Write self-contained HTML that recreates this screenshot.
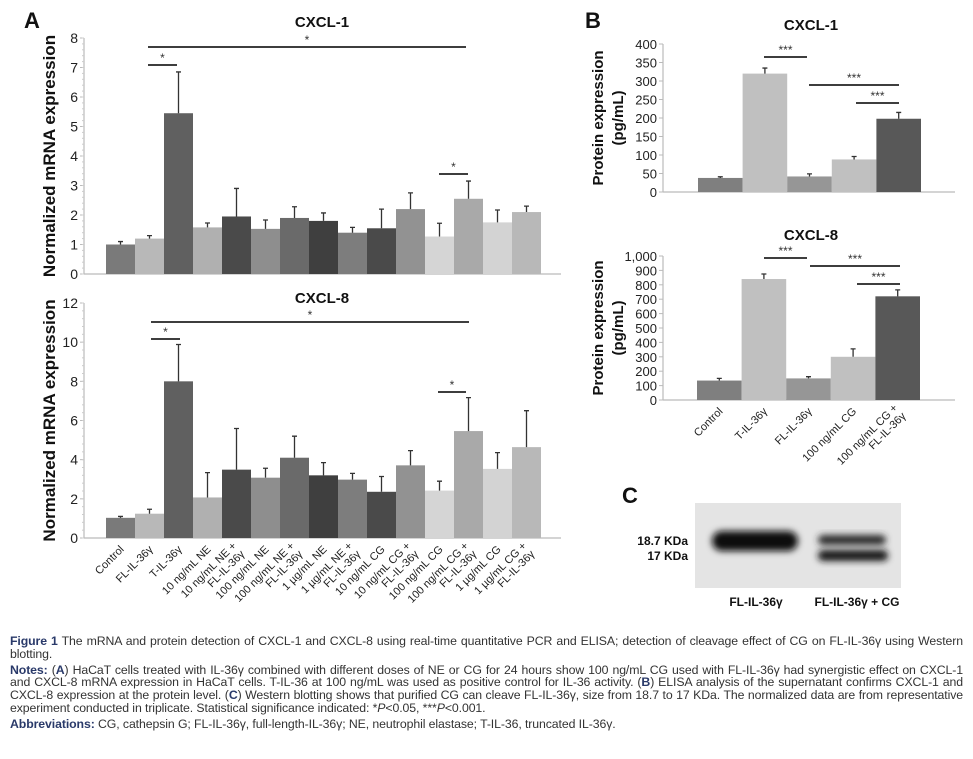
<!DOCTYPE html>
<html><head><meta charset="utf-8"><style>
body{margin:0;background:#fff;width:973px;height:759px;overflow:hidden;position:relative;font-family:"Liberation Sans",sans-serif}
svg{position:absolute;left:0;top:0}
#cap{position:absolute;left:10px;top:635px;width:953px;font-size:12.3px;line-height:12.8px;color:#333;text-align:justify;letter-spacing:-0.1px}
#cap p{margin:0 0 3px 0}
#cap b{color:#2a3a6a;font-weight:bold}
</style></head><body>
<svg id="fig" width="973" height="630" xmlns="http://www.w3.org/2000/svg" font-family="Liberation Sans, sans-serif"></svg>
<div id="cap"><p><b>Figure 1</b> The mRNA and protein detection of CXCL-1 and CXCL-8 using real-time quantitative PCR and ELISA; detection of cleavage effect of CG on FL-IL-36γ using Western blotting.</p><p><b>Notes:</b> (<b>A</b>) HaCaT cells treated with IL-36γ combined with different doses of NE or CG for 24 hours show 100 ng/mL CG used with FL-IL-36γ had synergistic effect on CXCL-1 and CXCL-8 mRNA expression in HaCaT cells. T-IL-36 at 100 ng/mL was used as positive control for IL-36 activity. (<b>B</b>) ELISA analysis of the supernatant confirms CXCL-1 and CXCL-8 expression at the protein level. (<b>C</b>) Western blotting shows that purified CG can cleave FL-IL-36γ, size from 18.7 to 17 KDa. The normalized data are from representative experiment conducted in triplicate. Statistical significance indicated: *<i>P</i>&lt;0.05, ***<i>P</i>&lt;0.001.</p><p><b>Abbreviations:</b> CG, cathepsin G; FL-IL-36γ, full-length-IL-36γ; NE, neutrophil elastase; T-IL-36, truncated IL-36γ.</p></div>
<script>
const catsA=["Control","FL-IL-36γ","T-IL-36γ","10 ng/mL NE","10 ng/mL NE +|FL-IL-36γ","100 ng/mL NE","100 ng/mL NE +|FL-IL-36γ","1 µg/mL NE","1 µg/mL NE +|FL-IL-36γ","10 ng/mL CG","10 ng/mL CG +|FL-IL-36γ","100 ng/mL CG","100 ng/mL CG +|FL-IL-36γ","1 µg/mL CG","1 µg/mL CG +|FL-IL-36γ"];
const a1Vals=[1.0,1.2,5.45,1.58,1.95,1.53,1.9,1.8,1.4,1.55,2.2,1.27,2.55,1.75,2.1];
const a1Err=[0.1,0.1,1.4,0.15,0.95,0.3,0.38,0.27,0.18,0.65,0.55,0.45,0.6,0.42,0.2];
const a8Vals=[1.03,1.24,8.0,2.07,3.49,3.08,4.1,3.2,2.98,2.36,3.71,2.42,5.46,3.53,4.64];
const a8Err=[0.07,0.23,1.88,1.27,2.1,0.48,1.1,0.65,0.32,0.78,0.75,0.48,1.71,0.83,1.86];
const a1Ticks=[0,1,2,3,4,5,6,7,8];
const a8Ticks=[0,2,4,6,8,10,12];
const catsB=["Control","T-IL-36γ","FL-IL-36γ","100 ng/mL CG","100 ng/mL CG +|FL-IL-36γ"];
const b1Vals=[38,320,42,88,198];
const b1Err=[3,15,7,8,17];
const b8Vals=[135,840,150,300,720];
const b8Err=[15,35,12,55,45];
const b1Ticks=[0,50,100,150,200,250,300,350,400];
const b8Ticks=[0,100,200,300,400,500,600,700,800,900,1000];
const colA=["#7a7a7a","#b8b8b8","#606060","#b0b0b0","#4a4a4a","#8e8e8e","#6a6a6a","#3f3f3f","#7d7d7d","#4a4a4a","#929292","#d5d5d5","#a9a9a9","#d3d3d3","#b8b8b8"];
const colB=["#7f7f7f","#c0c0c0","#969696","#c0c0c0","#585858"];
const S=document.getElementById('fig');const NS="http://www.w3.org/2000/svg";
function el(t,a,txt){const e=document.createElementNS(NS,t);for(const k in a)e.setAttribute(k,a[k]);if(txt!=null)e.textContent=txt;S.appendChild(e);return e;}
function chart(o){
 const y=v=>o.y0-(v-o.min)/(o.max-o.min)*(o.y0-o.yTop);
 const x=i=>o.x0+o.off+i*o.bw;
 let ax=el('line',{x1:o.x0,y1:o.yTop,x2:o.x0,y2:o.y0,stroke:'#bbb','stroke-width':1.2});
 
 let xa=el('line',{x1:o.x0,y1:o.y0,x2:o.xEnd,y2:o.y0,stroke:'#bbb','stroke-width':1.2});
 
 o.ticks.forEach(t=>{
  let ln=el('line',{x1:o.x0-4,y1:y(t),x2:o.x0,y2:y(t),stroke:'#bbb'});
  
  let tx=el('text',{x:o.x0-6,y:y(t)+5,'text-anchor':'end','font-size':o.tfs||14,fill:'#222'},t>=1000?t.toLocaleString('en-US'):t);
  
 });
 if(o.minor){for(let v=o.min;v<=o.max+1e-9;v+=o.minor){let m=el('line',{x1:o.x0-2,y1:y(v),x2:o.x0,y2:y(v),stroke:'#ccc'});}}
 o.vals.forEach((v,i)=>{
  let r=el('rect',{x:x(i),y:y(v),width:o.bw,height:o.y0-y(v),fill:o.cols[i]});
  
  const cx=x(i)+o.bw/2,ey=y(v+o.err[i]);
  let e=el('path',{d:`M${cx},${y(v)}V${ey}M${cx-2.5},${ey}H${cx+2.5}`,stroke:'#333','stroke-width':1.3,fill:'none'});
  
 });
 if(o.labels){o.cats.forEach((c,i)=>{
  const cx=x(i)+o.bw/2+4,ly=o.y0+12;
  const parts=c.split('|');
  let t=el('text',{transform:`translate(${cx},${ly}) rotate(-45)`,'text-anchor':'end','font-size':o.lfs,fill:'#222'});
  
  parts.forEach((p,k)=>{const ts=document.createElementNS(NS,'tspan');ts.setAttribute('x',0);ts.setAttribute('dy',k==0?(parts.length>1?-o.lfs*0.45:0):o.lfs*1.05);ts.textContent=p;t.appendChild(ts);});
 });}
 let tt=el('text',{x:o.tx,y:o.ty,'text-anchor':'middle','font-size':15,'font-weight':'bold',fill:'#111'},o.title);
 
 o.yt.forEach((s,k)=>{let a=el('text',{transform:`translate(${o.ytx+k*20},${(o.y0+o.yTop)/2}) rotate(-90)`,'text-anchor':'middle','font-size':o.ytfs,'font-weight':'bold',fill:'#111'},s);});
 o.sig.forEach(g=>{
  let l=el('line',{x1:g[0],x2:g[1],y1:g[2],y2:g[2],stroke:'#222','stroke-width':1.8});
  let s=el('text',{x:(g[0]+g[1])/2,y:g[2]-3,'text-anchor':'middle','font-size':12,fill:'#333'},g[3]);
 });
}
chart({id:'a-cxcl1',x0:84,xEnd:561,off:22,bw:29,y0:274,yTop:38,min:0,max:8,ticks:a1Ticks,minor:0.2,vals:a1Vals,err:a1Err,cols:colA,cats:catsA,labels:false,title:'CXCL-1',tx:322,ty:27,yt:['Normalized mRNA expression'],ytx:55,ytfs:17,
 sig:[[148,466,47,'*'],[148,177,65,'*'],[439,468,174,'*']]});
chart({id:'a-cxcl8',x0:84,xEnd:561,off:22,bw:29,y0:538,yTop:303,min:0,max:12,ticks:a8Ticks,minor:0.4,vals:a8Vals,err:a8Err,cols:colA,cats:catsA,labels:true,lfs:11,title:'CXCL-8',tx:322,ty:303,yt:['Normalized mRNA expression'],ytx:55,ytfs:17,
 sig:[[151,469,322,'*'],[151,180,339,'*'],[438,466,392,'*']]});
chart({id:'b-cxcl1',x0:663,xEnd:955,off:35,bw:44.6,y0:192,yTop:44,min:0,max:400,ticks:b1Ticks,vals:b1Vals,err:b1Err,cols:colB,cats:catsB,labels:false,tfs:13,title:'CXCL-1',tx:811,ty:30,yt:['Protein expression','(pg/mL)'],ytx:603,ytfs:15,
 sig:[[764,807,57,'***'],[809,899,85,'***'],[856,899,103,'***']]});
chart({id:'b-cxcl8',x0:663,xEnd:955,off:34,bw:44.6,y0:400,yTop:256,min:0,max:1000,ticks:b8Ticks,vals:b8Vals,err:b8Err,cols:colB,cats:catsB,labels:true,lfs:11,tfs:13,title:'CXCL-8',tx:811,ty:240,yt:['Protein expression','(pg/mL)'],ytx:603,ytfs:15,
 sig:[[764,807,258,'***'],[810,900,266,'***'],[857,900,284,'***']]});
[['A',24,28],['B',585,28],['C',622,503]].forEach(p=>{let t=el('text',{x:p[1],y:p[2],'font-size':22,'font-weight':'bold',fill:'#111'},p[0]);});
const defs=el('defs',{});defs.innerHTML='<filter id="bl" x="-20%" y="-60%" width="140%" height="220%"><feGaussianBlur stdDeviation="3.5"/></filter>';
let wb=el('rect',{x:695,y:503,width:206,height:85,fill:'#e4e4e4'});
let b1=el('rect',{x:712,y:531,width:86,height:20,rx:10,fill:'#0a0a0a',filter:'url(#bl)'});
let b2=el('rect',{x:818,y:535,width:68,height:10,rx:5,fill:'#2a2a2a',filter:'url(#bl)'});
let b3=el('rect',{x:818,y:550,width:70,height:11,rx:5,fill:'#151515',filter:'url(#bl)'});
[['18.7 KDa',545],['17 KDa',560]].forEach(p=>{let t=el('text',{x:688,y:p[1],'text-anchor':'end','font-size':12,'font-weight':'bold',fill:'#111'},p[0]);});
[['FL-IL-36γ',756],['FL-IL-36γ + CG',857]].forEach(p=>{let t=el('text',{x:p[1],y:606,'text-anchor':'middle','font-size':12,'font-weight':'bold',fill:'#111'},p[0]);});
</script>
</body></html>
